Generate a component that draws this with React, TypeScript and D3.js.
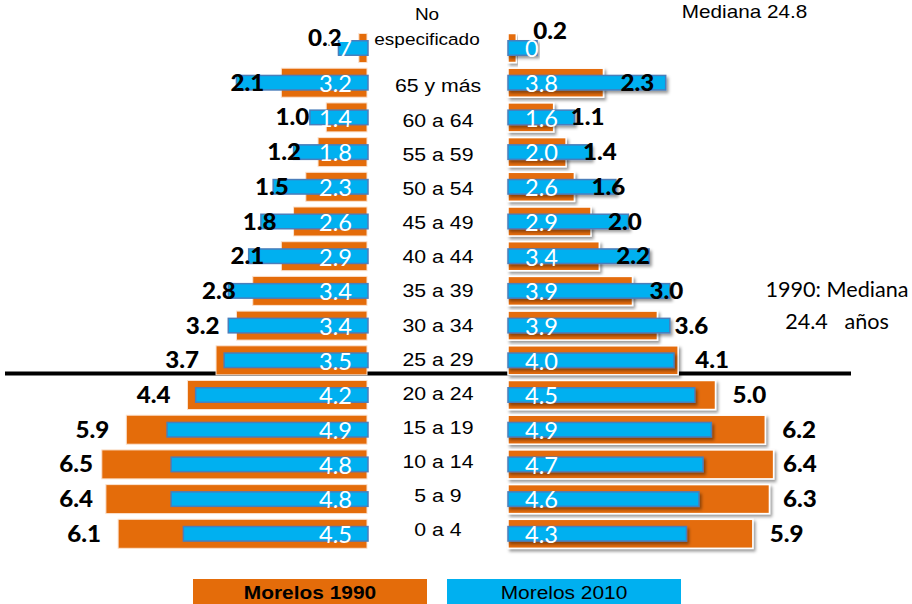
import React from 'react';
import * as d3 from 'd3';

const categories = ["No especificado", "65 y más", "60 a 64", "55 a 59", "50 a 54", "45 a 49", "40 a 44", "35 a 39", "30 a 34", "25 a 29", "20 a 24", "15 a 19", "10 a 14", "5 a 9", "0 a 4"];
const left1990 = [0.2, 2.1, 1.0, 1.2, 1.5, 1.8, 2.1, 2.8, 3.2, 3.7, 4.4, 5.9, 6.5, 6.4, 6.1];
const left2010 = [0.7, 3.2, 1.4, 1.8, 2.3, 2.6, 2.9, 3.4, 3.4, 3.5, 4.2, 4.9, 4.8, 4.8, 4.5];
const right1990 = [0.2, 2.3, 1.1, 1.4, 1.6, 2.0, 2.2, 3.0, 3.6, 4.1, 5.0, 6.2, 6.4, 6.3, 5.9];
const right2010 = [0.7, 3.8, 1.6, 2.0, 2.6, 2.9, 3.4, 3.9, 3.9, 4.0, 4.5, 4.9, 4.7, 4.6, 4.3];
const seriesNames = ["Morelos 1990", "Morelos 2010"];
const noteTop = "Mediana 24.8";
const noteSide = ["1990: Mediana", "24.4   años"];

const ORANGE = "#E46C0A";
const BLUE = "#00B0F0";
const BLUE_EDGE = "#4A7EBB";
const ARIAL = "'Liberation Sans', Arial, sans-serif";
const CAL = "Lato, 'Open Sans', sans-serif";
const SX = 1.15;

function SText(props: any) {
  const { x, y, size, weight = 'normal', anchor = 'middle', fill = '#000', family = ARIAL, sx = SX, children } = props;
  return (
    <text transform={`translate(${x},${y}) scale(${sx},1)`} textAnchor={anchor} fontSize={size}
      fontWeight={weight} fill={fill} fontFamily={family} dy="0.35em" style={{ whiteSpace: 'pre' }}>
      {children}
    </text>
  );
}

export default function App() {
  const xL = d3.scaleLinear().domain([0, 6.5]).range([367, 101.8]);
  const xR = d3.scaleLinear().domain([0, 6.4]).range([508, 773.6]);
  const y = d3.scalePoint<string>().domain(categories).range([48, 533.8]);
  const yLab = d3.scalePoint<string>().domain(categories.slice(1)).range([86, 530]);
  const hO = 29, hB = 14.5;
  const fmt = d3.format('.1f');

  return (
    <svg width={912} height={604} style={{ position: 'absolute', left: 0, top: 0, display: 'block', background: '#fff' }}>
      <defs>
        <filter id="sh" x="-5%" y="-20%" width="115%" height="160%">
          <feDropShadow dx="2" dy="2.5" stdDeviation="1.5" floodColor="#000" floodOpacity="0.4" />
        </filter>
      </defs>

      {/* median line */}
      <line x1={5} x2={851} y1={373.5} y2={373.5} stroke="#000" strokeWidth={4} />

      {/* orange bars 1990 */}
      {categories.map((c, i) => (
        <g key={'o' + c}>
          <rect x={xL(left1990[i])} y={y(c)! - hO / 2} width={xL(0) - xL(left1990[i])} height={hO}
            fill={ORANGE} stroke="#fbe3d0" strokeWidth={1} />
          <rect x={xR(0)} y={y(c)! - hO / 2} width={xR(right1990[i]) - xR(0)} height={hO}
            fill={ORANGE} stroke="#fff" strokeWidth={1.5} filter="url(#sh)" />
        </g>
      ))}

      {/* blue bars 2010 */}
      {categories.map((c, i) => (
        <g key={'b' + c}>
          <rect x={xL(left2010[i])} y={y(c)! - hB / 2} width={xL(0) - xL(left2010[i]) + 1} height={hB}
            fill={BLUE} stroke={BLUE_EDGE} strokeWidth={1.5} />
          <rect x={xR(0)} y={y(c)! - hB / 2} width={xR(right2010[i]) - xR(0)} height={hB}
            fill={BLUE} stroke={BLUE_EDGE} strokeWidth={1.5} filter="url(#sh)" />
        </g>
      ))}

      {/* 1990 labels (black bold) */}
      {categories.map((c, i) => {
        const dyL = i === 0 ? -10 : 0;
        const dyR = i === 0 ? -17 : 0;
        const lx = Math.max(xL(left1990[i]) - 17, 93);
        const rx = Math.min(xR(right1990[i]) + 17, 783);
        return (
          <g key={'bl' + c}>
            <SText x={lx} y={y(c)! + dyL} size={23} weight="900" anchor="end" family={CAL} sx={1.05}>{fmt(left1990[i])}</SText>
            <SText x={rx} y={y(c)! + dyR} size={23} weight="900" anchor="start" family={CAL} sx={1.05}>{fmt(right1990[i])}</SText>
          </g>
        );
      })}

      {/* 2010 labels (white) */}
      {categories.map((c, i) => (
        <g key={'wl' + c}>
          <SText x={352} y={y(c)! + 1.5} size={22.5} anchor="end" fill="#fff" family={CAL} sx={1.05}>{fmt(left2010[i])}</SText>
          <SText x={525} y={y(c)! + 1.5} size={22.5} anchor="start" fill="#fff" family={CAL} sx={1.05}>{fmt(right2010[i])}</SText>
        </g>
      ))}

      {/* category labels */}
      <SText x={427} y={14} size={16.5}>No</SText>
      <SText x={427} y={39} size={16.5}>especificado</SText>
      {categories.slice(1).map(c => (
        <SText key={'cl' + c} x={438} y={yLab(c)!} size={18.5}>{c}</SText>
      ))}

      {/* notes */}
      <SText x={744.5} y={12} size={18}>{noteTop}</SText>
      <SText x={837} y={290} size={21} family={CAL} sx={1.03}>{noteSide[0]}</SText>
      <SText x={837} y={322} size={21} family={CAL} sx={1.03}>{noteSide[1]}</SText>

      {/* legend */}
      <rect x={193} y={579} width={234} height={30} fill={ORANGE} />
      <SText x={310} y={592} size={19} weight="bold" sx={1.1}>{seriesNames[0]}</SText>
      <rect x={447} y={579} width={234} height={30} fill={BLUE} />
      <SText x={564} y={592} size={19} sx={1.1}>{seriesNames[1]}</SText>
    </svg>
  );
}
